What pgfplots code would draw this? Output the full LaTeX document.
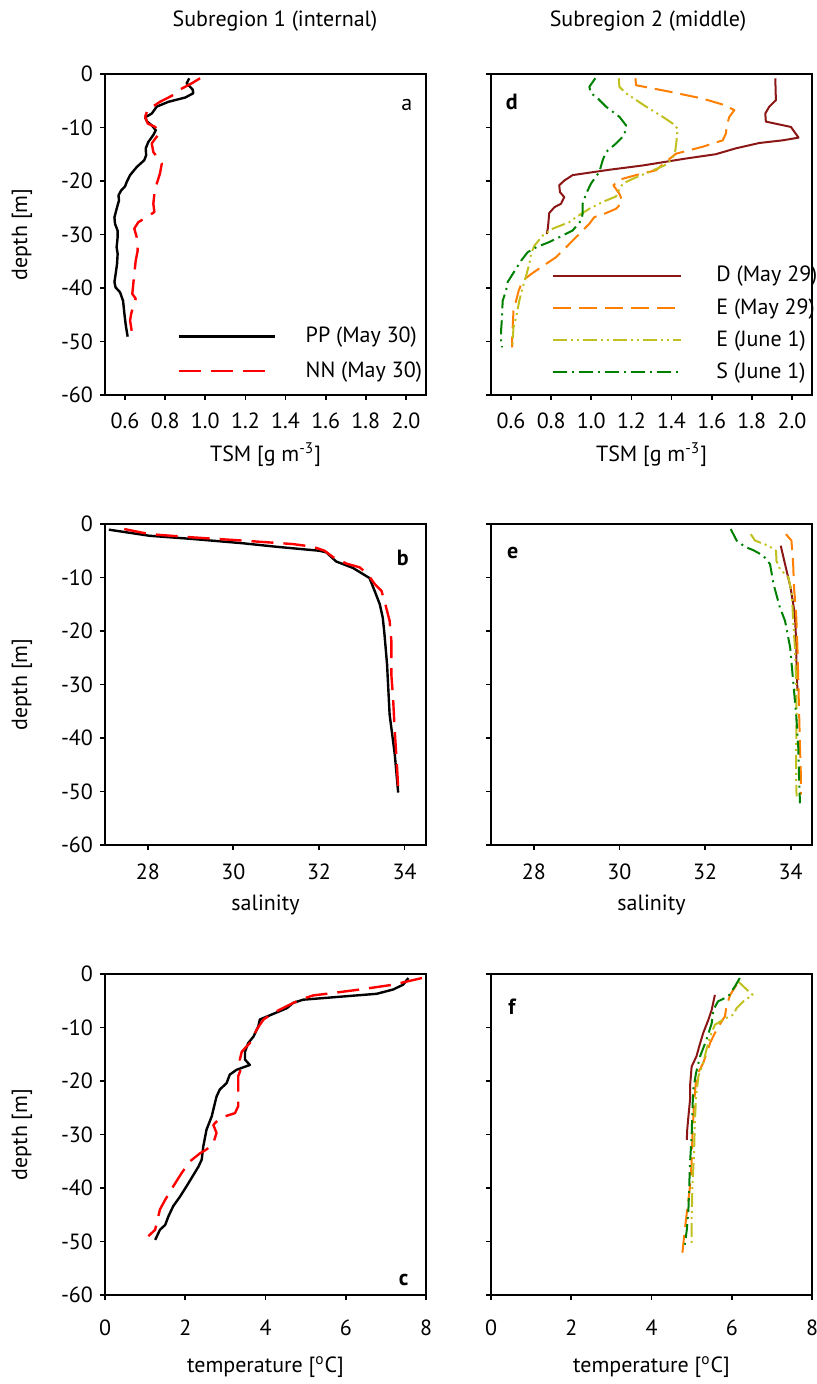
\documentclass[border=0pt]{standalone}
\usepackage{fontspec}
\setmainfont{PT Sans}
\usepackage{pgfplots}
\pgfplotsset{compat=1.18}

\definecolor{cD}{RGB}{139,22,22}
\definecolor{cE}{RGB}{255,128,0}
\definecolor{cEj}{RGB}{192,192,32}
\definecolor{cS}{RGB}{0,128,0}

\newcommand{\fs}{\fontsize{11}{13}\selectfont}

\pgfplotsset{
  prof/.style={scale only axis, width=160.5pt, height=160.5pt,
    ymin=-60, ymax=0, ytick={-60,-50,-40,-30,-20,-10,0},
    tick align=outside, tick pos=left, major tick length=2.5pt,
    axis line style={line width=0.9pt},
    every tick/.style={black, line width=0.9pt},
    tick label style={font=\fs}, label style={font=\fs},
    every axis plot/.append style={line width=1pt, line join=round}},
  left/.style={yticklabels={-60,-50,-40,-30,-20,-10,0}, ylabel={depth [m]},
    ylabel style={at={(axis description cs:-0.259,0.5)}, anchor=center}},
  right/.style={yticklabels={}},
  tsm/.style={xmin=0.5, xmax=2.1, xtick={0.6,0.8,1.0,1.2,1.4,1.6,1.8,2.0},
    xticklabels={0.6,0.8,1.0,1.2,1.4,1.6,1.8,2.0}, xlabel={TSM [g m\textsuperscript{-3}]},
    xticklabel style={anchor=center, yshift=-10.5pt},
    xlabel style={at={(axis description cs:0.5,0)}, anchor=center, yshift=-30pt}},
  sal/.style={xmin=27, xmax=34.5, xtick={28,30,32,34}, xticklabels={28,30,32,34},
    xlabel={salinity},
    xticklabel style={anchor=center, yshift=-11pt},
    xlabel style={at={(axis description cs:0.5,0)}, anchor=center, yshift=-30pt}},
  tem/.style={xmin=0, xmax=8, xtick={0,2,4,6,8}, xticklabels={0,2,4,6,8},
    xlabel={temperature [\textsuperscript{o}C]},
    xticklabel style={anchor=center, yshift=-14pt},
    xlabel style={at={(axis description cs:0.5,0)}, anchor=center, yshift=-36pt}},
  pp/.style={black, line width=1.2pt},
  nn/.style={red, line width=1.2pt, dash pattern=on 11pt off 5pt},
  sD/.style={cD},
  sE/.style={cE, dash pattern=on 9pt off 4pt},
  sEj/.style={cEj, dash pattern=on 7pt off 2pt on 1pt off 2pt on 1pt off 2pt},
  sS/.style={cS, dash pattern=on 7pt off 2.5pt on 1pt off 2.5pt},
}

\begin{document}
\begin{tikzpicture}
\useasboundingbox (0,0) rectangle (408.5pt,-692pt);
\node[font=\fs] at (137.5pt,-10.5pt) {Subregion 1 (internal)};
\node[font=\fs] at (324pt,-10.5pt) {Subregion 2 (middle)};

% ---- a : TSM, subregion 1
\begin{axis}[prof, left, tsm, at={(52.5pt,-37pt)}, anchor=north west,
  legend style={draw=none, fill=none, inner sep=0pt, font=\fs, row sep=4pt,
    at={(axis description cs:0.224,0.225)}, anchor=north west,
    /tikz/every odd column/.append style={column sep=13pt}},
  legend cell align=left,
  legend image code/.code={\draw[#1] (0pt,0pt) -- (48pt,0pt);}]
\addplot[pp] coordinates {(0.92,-0.8)(0.907,-1.75)(0.937,-2.9)(0.94,-3.6)(0.90,-4.4)(0.816,-5.2)(0.758,-6.1)(0.733,-7.4)(0.70,-8.1)(0.71,-8.9)(0.733,-9.6)(0.753,-10.5)(0.741,-11.4)(0.716,-12.7)(0.703,-13.9)(0.705,-15.2)(0.696,-16.1)(0.658,-17.4)(0.625,-18.9)(0.608,-20.2)(0.6,-21)(0.58,-21.8)(0.567,-22.7)(0.57,-23.6)(0.558,-25.2)(0.547,-26.8)(0.55,-28)(0.563,-29.3)(0.563,-30.5)(0.558,-32.4)(0.563,-33.6)(0.56,-35.5)(0.553,-37.4)(0.547,-38.9)(0.553,-39.9)(0.575,-40.8)(0.59,-42.4)(0.597,-44.9)(0.603,-46.8)(0.608,-48)(0.613,-49.1)};
\addlegendentry{PP (May 30)}
\addplot[nn] coordinates {(0.974,-0.8)(0.932,-1.75)(0.874,-2.9)(0.857,-3.6)(0.816,-4.4)(0.774,-5.2)(0.75,-5.8)(0.713,-6.6)(0.70,-8)(0.713,-9.25)(0.75,-9.9)(0.774,-11)(0.75,-12.1)(0.733,-13)(0.741,-14.6)(0.766,-15.8)(0.783,-16.75)(0.774,-18.6)(0.758,-20.5)(0.746,-22.4)(0.741,-24.25)(0.746,-25.8)(0.708,-26.75)(0.666,-27.7)(0.646,-28.9)(0.658,-30.5)(0.663,-33)(0.653,-34.9)(0.646,-37.4)(0.641,-39.25)(0.636,-41.1)(0.653,-42)(0.641,-43.3)(0.63,-44.9)(0.625,-46.1)(0.633,-48)};
\addlegendentry{NN (May 30)}
\node[font=\fs] at (axis description cs:0.94,0.903) {a};
\end{axis}

% ---- d : TSM, subregion 2
\begin{axis}[prof, right, tsm, at={(245.5pt,-37pt)}, anchor=north west,
  legend style={draw=none, fill=none, inner sep=0pt, font=\fs, row sep=2.8pt,
    at={(axis description cs:0.19,0.415)}, anchor=north west,
    /tikz/every odd column/.append style={column sep=15pt}},
  legend cell align=left,
  legend image code/.code={\draw[#1] (0pt,0pt) -- (64pt,0pt);}]
\addplot[sD] coordinates {(1.917,-0.8)(1.92,-4.9)(1.887,-6.1)(1.867,-7.4)(1.87,-8.9)(1.995,-9.9)(2.033,-11.9)(1.954,-12.4)(1.837,-12.9)(1.72,-13.9)(1.62,-15)(1.472,-15.8)(1.256,-17.1)(1.09,-17.9)(0.907,-18.9)(0.866,-19.9)(0.84,-20.8)(0.844,-22.1)(0.865,-23)(0.849,-24.25)(0.816,-24.9)(0.79,-26)(0.787,-27.4)(0.783,-28.9)(0.778,-29.9)};
\addlegendentry{D (May 29)}
\addplot[sE] coordinates {(1.22,-0.8)(1.223,-2.1)(1.389,-3.3)(1.555,-4.6)(1.663,-5.8)(1.713,-6.75)(1.688,-8)(1.675,-9.6)(1.671,-11.1)(1.655,-12.4)(1.555,-13.6)(1.422,-14.9)(1.372,-16.4)(1.322,-18)(1.223,-18.9)(1.14,-19.75)(1.11,-20.8)(1.14,-22.4)(1.156,-23.9)(1.123,-25.2)(1.057,-26.25)(1.015,-26.75)(0.99,-28)(0.94,-29.9)(0.874,-32.4)(0.824,-34.25)(0.75,-36.1)(0.70,-37.4)(0.658,-38.6)(0.638,-40.5)(0.625,-42.4)(0.612,-44.25)(0.608,-47.4)(0.605,-49.9)(0.605,-51.1)};
\addlegendentry{E (May 29)}
\addplot[sEj] coordinates {(1.137,-0.8)(1.14,-2.4)(1.173,-3.6)(1.273,-6.1)(1.356,-8)(1.405,-9.25)(1.43,-10.2)(1.425,-12.4)(1.419,-14.25)(1.405,-15.8)(1.364,-17.1)(1.289,-18.3)(1.206,-19.6)(1.157,-20.5)(1.132,-22.1)(1.123,-22.9)(1.057,-23.9)(0.99,-25.2)(0.924,-26.75)(0.89,-27.7)(0.808,-28.9)(0.758,-30.2)(0.716,-32.1)(0.70,-33.6)(0.691,-35.5)(0.675,-37.7)(0.658,-39.9)(0.641,-42.4)(0.625,-45.5)(0.612,-47.4)(0.608,-49.9)(0.608,-51.1)};
\addlegendentry{E (June 1)}
\addplot[sS] coordinates {(1.02,-0.8)(0.99,-2.4)(0.998,-3.6)(1.024,-4.25)(1.073,-6.1)(1.14,-8)(1.173,-9.6)(1.165,-11.4)(1.123,-13)(1.073,-14.6)(1.057,-16.1)(1.04,-18.3)(0.998,-20.5)(0.974,-22.4)(0.957,-24.25)(0.957,-26.1)(0.949,-27.4)(0.907,-29.25)(0.841,-30.5)(0.791,-31.4)(0.725,-32.4)(0.683,-33.3)(0.65,-34.9)(0.608,-37.4)(0.583,-38.9)(0.575,-40.5)(0.558,-42.4)(0.555,-45.5)(0.55,-48)(0.55,-49.9)(0.555,-51.1)};
\addlegendentry{S (June 1)}
\node[font=\fs\bfseries] at (axis description cs:0.065,0.913) {d};
\end{axis}

% ---- b : salinity, subregion 1
\begin{axis}[prof, left, sal, at={(52.5pt,-262pt)}, anchor=north west]
\addplot[pp] coordinates {(27.09,-1.06)(28.04,-2.2)(29.05,-2.8)(30.22,-3.6)(31.0,-4.25)(32.01,-5)(32.17,-5.3)(32.4,-7)(32.79,-8.2)(33.18,-10.1)(33.3,-12.5)(33.42,-15)(33.49,-17.5)(33.53,-20.6)(33.59,-26.2)(33.65,-35.6)(33.77,-43)(33.85,-50.2)};
\addplot[nn] coordinates {(27.45,-0.94)(28.04,-1.9)(29.05,-2.5)(30.22,-3.1)(31.39,-3.75)(31.86,-4.25)(32.13,-5)(32.33,-6.2)(32.64,-7.4)(32.95,-8.1)(33.14,-9.4)(33.3,-11.2)(33.46,-12.5)(33.56,-15.3)(33.65,-18.1)(33.69,-21.8)(33.69,-28.1)(33.73,-32.4)(33.77,-38.7)(33.82,-44.9)(33.85,-49.3)};
\node[font=\fs\bfseries] at (axis description cs:0.928,0.894) {b};
\end{axis}

% ---- e : salinity, subregion 2
\begin{axis}[prof, right, sal, at={(245.5pt,-262pt)}, anchor=north west]
\addplot[sD] coordinates {(33.77,-4.06)(33.87,-7.5)(34.0,-11.9)(34.1,-16.9)(34.13,-21.9)(34.14,-26.9)(34.16,-31.2)};
\addplot[sE] coordinates {(33.89,-1.9)(34.02,-3.1)(34.06,-7.5)(34.08,-11.9)(34.13,-16.9)(34.16,-23.1)(34.18,-29.4)(34.2,-35.6)(34.22,-41.9)(34.24,-46.9)(34.24,-50.6)};
\addplot[sEj] coordinates {(33.07,-1.9)(33.17,-3.1)(33.48,-4.06)(33.66,-5)(33.67,-6.9)(33.75,-8.4)(33.95,-10)(34.03,-13.1)(34.06,-18.1)(34.1,-23.1)(34.13,-29.4)(34.14,-35.6)(34.13,-41.9)(34.13,-48.1)(34.14,-50.9)};
\addplot[sS] coordinates {(32.6,-0.94)(32.74,-3.1)(32.93,-4.25)(33.13,-4.9)(33.36,-5.9)(33.52,-7.5)(33.6,-11.2)(33.75,-15.6)(33.87,-18.1)(33.99,-23.1)(34.06,-29.4)(34.13,-35.6)(34.18,-41.9)(34.2,-48.1)(34.22,-52.2)};
\node[font=\fs\bfseries] at (axis description cs:0.068,0.91) {e};
\end{axis}

% ---- c : temperature, subregion 1
\begin{axis}[prof, left, tem, at={(52.5pt,-487pt)}, anchor=north west]
\addplot[pp] coordinates {(7.56,-0.75)(7.43,-2)(7.18,-2.9)(6.77,-3.7)(5.94,-4.2)(4.94,-4.8)(4.69,-5.4)(4.53,-6.4)(3.86,-8.5)(3.82,-9.8)(3.7,-11.7)(3.57,-12.9)(3.49,-14.5)(3.49,-16)(3.61,-17)(3.28,-17.9)(3.11,-18.8)(3.03,-20.4)(2.86,-21.6)(2.78,-22.9)(2.74,-24.1)(2.66,-26.6)(2.53,-29.1)(2.45,-32.2)(2.41,-34.7)(2.33,-36)(2.16,-38.1)(2.03,-39.7)(1.87,-41.6)(1.7,-43.4)(1.58,-45.3)(1.5,-46.9)(1.37,-47.8)(1.25,-49.7)};
\addplot[nn] coordinates {(7.9,-0.75)(7.18,-2)(6.35,-2.9)(5.52,-3.7)(5.19,-4)(4.86,-4.8)(4.53,-6)(4.19,-7.3)(3.95,-8.5)(3.78,-10.4)(3.61,-12.9)(3.41,-14.5)(3.36,-16)(3.41,-17.3)(3.32,-19.1)(3.32,-22.9)(3.32,-24.7)(3.24,-26)(2.87,-26.9)(2.7,-28.2)(2.78,-29.7)(2.7,-31.6)(2.53,-32.8)(2.37,-33.5)(2.12,-35)(1.91,-37.2)(1.7,-39.7)(1.5,-42.2)(1.37,-44)(1.29,-46.5)(1.25,-47.8)(1.08,-49)};
\node[font=\fs\bfseries] at (axis description cs:0.93,0.047) {c};
\end{axis}

% ---- f : temperature, subregion 2
\begin{axis}[prof, right, tem, at={(245.5pt,-487pt)}, anchor=north west]
\addplot[sD] coordinates {(5.58,-3.9)(5.5,-6.7)(5.42,-8.5)(5.29,-11)(5.19,-13.5)(5.12,-15.4)(5.0,-17.3)(4.96,-21)(4.96,-23.5)(4.92,-26.6)(4.89,-29.1)(4.88,-31)};
\addplot[sE] coordinates {(6.12,-2)(5.96,-3.9)(5.87,-6)(5.83,-7.9)(5.62,-10.4)(5.46,-12.9)(5.29,-16.6)(5.12,-19.1)(5.06,-24.1)(5.02,-30.3)(5.0,-35.3)(4.96,-39.7)(4.89,-44)(4.83,-47.8)(4.77,-52.1)};
\addplot[sEj] coordinates {(6.16,-1.4)(6.33,-2.6)(6.52,-3.9)(6.29,-5.1)(6.12,-6.4)(6.04,-7.6)(5.79,-8.5)(5.58,-9.5)(5.46,-11.7)(5.37,-14.1)(5.29,-16.6)(5.17,-19.1)(5.11,-22.9)(5.08,-27.8)(5.06,-33.5)(5.02,-39.7)(5.0,-45.9)(5.0,-50.3)};
\addplot[sS] coordinates {(6.2,-0.75)(6.08,-2.3)(5.91,-4.2)(5.66,-5.1)(5.54,-6.7)(5.5,-9.2)(5.37,-12.3)(5.21,-15.4)(5.11,-18.5)(5.04,-21.6)(5.02,-25.4)(5.0,-30.3)(4.96,-35.3)(4.94,-39.7)(4.92,-44)(4.88,-47.8)(4.83,-50.6)};
\node[font=\fs\bfseries] at (axis description cs:0.065,0.897) {f};
\end{axis}
\end{tikzpicture}
\end{document}
